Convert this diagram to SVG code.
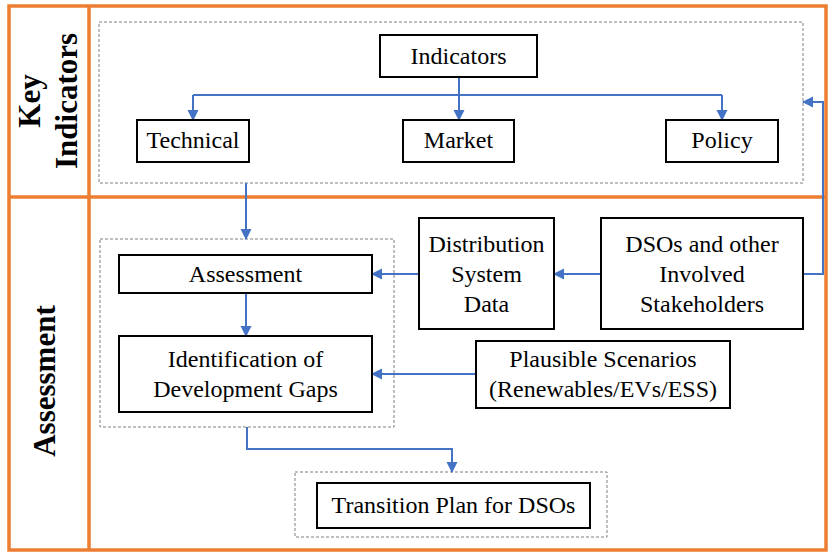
<svg xmlns="http://www.w3.org/2000/svg" width="828" height="554" viewBox="0 0 828 554">
<style>
.frame{fill:none;stroke:#ED7D31;stroke-width:3.5}
.dash{fill:none;stroke:#7f7f7f;stroke-width:1;stroke-dasharray:3,2}
.box{fill:#fff;stroke:#000;stroke-width:2}
.t{font-family:"Liberation Serif","Times New Roman",serif;font-size:24px;fill:#000;text-anchor:middle}
.lab{font-family:"Liberation Serif","Times New Roman",serif;font-size:31px;font-weight:bold;fill:#000;text-anchor:middle}
.c{fill:none;stroke:#4472C4;stroke-width:2}
</style>
<defs>
<marker id="ah" markerWidth="12" markerHeight="12" refX="10" refY="5.5" orient="auto" markerUnits="userSpaceOnUse">
<path d="M0,0 L11,5.5 L0,11 z" fill="#4472C4"/>
</marker>
</defs>
<g id="frame">
<rect class="frame" x="9" y="6" width="817" height="544"/>
<line class="frame" x1="89" y1="6" x2="89" y2="550"/>
<line class="frame" x1="9" y1="197" x2="826" y2="197"/>
<text class="lab" transform="translate(40,101) rotate(-90)">Key</text>
<text class="lab" transform="translate(77,101) rotate(-90)">Indicators</text>
<text class="lab" transform="translate(55,381) rotate(-90)">Assessment</text>
</g>
<g id="groups">
<rect class="dash" x="99" y="22" width="704" height="161"/>
<rect class="dash" x="100" y="239" width="294" height="188"/>
<rect class="dash" x="295" y="472" width="312" height="65"/>
</g>
<g id="connectors">
<path class="c" d="M459,77 V95"/>
<path class="c" d="M193,95 H722"/>
<path class="c" d="M193,95 V120" marker-end="url(#ah)"/>
<path class="c" d="M459,95 V120" marker-end="url(#ah)"/>
<path class="c" d="M722,95 V120" marker-end="url(#ah)"/>
<path class="c" d="M246,183 V239" marker-end="url(#ah)"/>
<path class="c" d="M246,293 V336" marker-end="url(#ah)"/>
<path class="c" d="M601,274 H554" marker-end="url(#ah)"/>
<path class="c" d="M419,274 H372" marker-end="url(#ah)"/>
<path class="c" d="M803,274 H823 V102 H803" marker-end="url(#ah)"/>
<path class="c" d="M476,374 H372" marker-end="url(#ah)"/>
<path class="c" d="M247,427 V449 H452 V472" marker-end="url(#ah)"/>
</g>
<g id="indicators"><rect class="box" x="380" y="35" width="157" height="42"/><text class="t" x="458.5" y="64">Indicators</text></g>
<g id="technical"><rect class="box" x="137" y="120" width="112" height="42"/><text class="t" x="193" y="148">Technical</text></g>
<g id="market"><rect class="box" x="403" y="120" width="111" height="42"/><text class="t" x="458.5" y="148">Market</text></g>
<g id="policy"><rect class="box" x="666" y="120" width="112" height="42"/><text class="t" x="722" y="148">Policy</text></g>
<g id="assessment"><rect class="box" x="119" y="255" width="253" height="38"/><text class="t" x="245.5" y="282">Assessment</text></g>
<g id="gaps"><rect class="box" x="119" y="336" width="253" height="76"/><text class="t" x="245.5" y="367">Identification of</text><text class="t" x="245.5" y="397">Development Gaps</text></g>
<g id="dsdata"><rect class="box" x="419" y="218" width="135" height="111"/><text class="t" x="486.5" y="252">Distribution</text><text class="t" x="486.5" y="282">System</text><text class="t" x="486.5" y="312">Data</text></g>
<g id="dsos"><rect class="box" x="601" y="218" width="202" height="111"/><text class="t" x="702" y="252">DSOs and other</text><text class="t" x="702" y="282">Involved</text><text class="t" x="702" y="312">Stakeholders</text></g>
<g id="scenarios"><rect class="box" x="476" y="341" width="254" height="67"/><text class="t" x="603" y="367">Plausible Scenarios</text><text class="t" x="603" y="397">(Renewables/EVs/ESS)</text></g>
<g id="transition"><rect class="box" x="317" y="483" width="273" height="45"/><text class="t" x="453.5" y="513">Transition Plan for DSOs</text></g>
</svg>
